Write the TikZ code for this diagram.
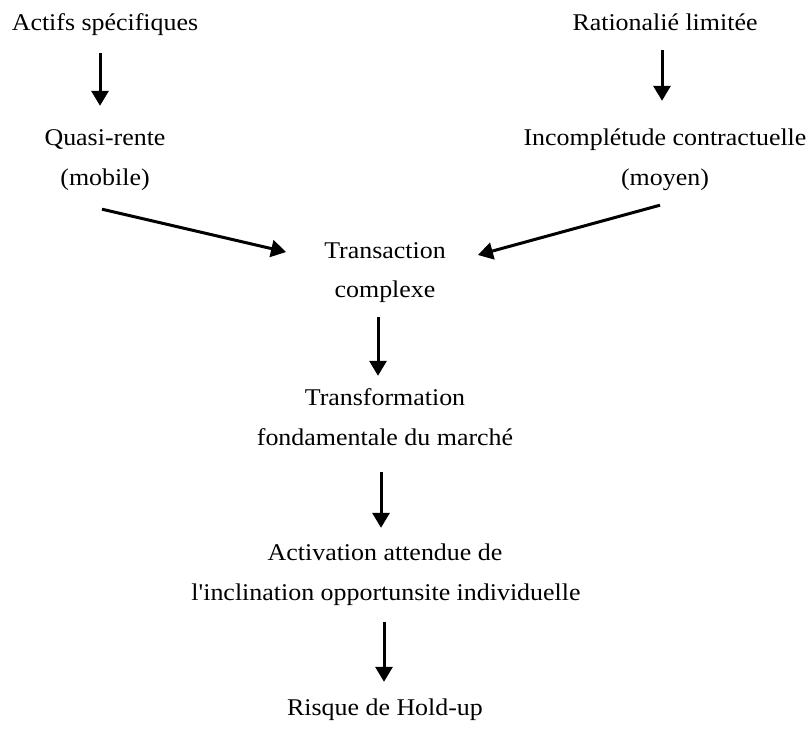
\documentclass[tikz,border=0pt]{standalone}
\usepackage{fontspec}
\setmainfont{Liberation Serif}[FakeStretch=1.08, Ligatures=TeXOff]
\usetikzlibrary{arrows.meta}
\tikzset{
  lbl/.style={inner sep=0pt, text height=15pt, text depth=5pt,
    font=\fontsize{24}{28}\selectfont},
  arr/.style={line width=3pt, -{Triangle[width=17pt,length=15pt]}}
}
\begin{document}
\begin{tikzpicture}[x=1pt,y=-1pt]
\useasboundingbox (0,0) rectangle (812,731);
% text lines
\node[lbl] (a1) at (105,25) {Actifs spécifiques};
\node[lbl] (r1) at (665,25) {Rationalié limitée};
\node[lbl] (q1) at (105,140) {Quasi-rente};
\node[lbl] (q2) at (105,180) {(mobile)};
\node[lbl] (i1) at (665,140) {Incomplétude contractuelle};
\node[lbl] (i2) at (665,180) {(moyen)};
\node[lbl] (t1) at (385,253) {Transaction};
\node[lbl] (t2) at (385,292) {complexe};
\node[lbl] (f1) at (385,400) {Transformation};
\node[lbl] (f2) at (385,440) {fondamentale du marché};
\node[lbl] (ac1) at (385,555) {Activation attendue de};
\node[lbl] (ac2) at (386,595) {l'inclination opportunsite individuelle};
\node[lbl] (h) at (385,710) {Risque de Hold-up};
% connectors
\draw[arr] ([xshift=-5pt,yshift=-18pt]a1.south) -- ([xshift=-5pt,yshift=24pt]q1.north);
\draw[arr] ([xshift=-3pt,yshift=-15pt]r1.south) -- ([xshift=-3pt,yshift=29pt]i1.north);
\draw[arr] ([xshift=-3pt,yshift=-19pt]q2.south) -- ([xshift=-38pt,yshift=1pt]t1.west);
\draw[arr] ([xshift=-5pt,yshift=-15pt]i2.south) -- ([xshift=32pt,yshift=-2pt]t1.east);
\draw[arr] ([xshift=-7pt,yshift=-15pt]t2.south) -- ([xshift=-7pt,yshift=14pt]f1.north);
\draw[arr] ([xshift=-4pt,yshift=-22pt]f2.south) -- ([xshift=-4pt,yshift=17pt]ac1.north);
\draw[arr] ([xshift=-2pt,yshift=-17pt]ac2.south) -- ([xshift=-1pt,yshift=18pt]h.north);
\end{tikzpicture}
\end{document}
